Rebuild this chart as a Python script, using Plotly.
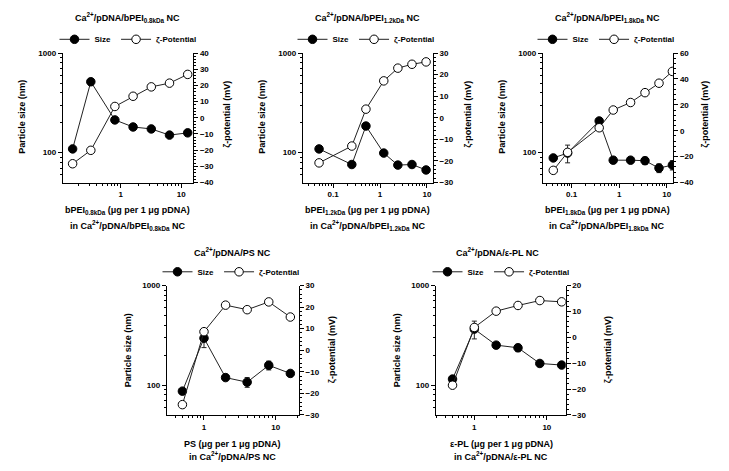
import plotly.graph_objects as go

W, H = 729, 471

# ---------------- data ----------------
p1_x = [0.16, 0.32, 0.8, 1.6, 3.2, 6.4, 12.8]
p1_size = [109, 515, 213, 181, 173, 150, 158]
p1_size_err = [6, 40, 8, 6, 5, 6, 6]
p1_zeta = [-28.4, -20.1, 7.0, 13.3, 19.1, 21.4, 26.8]

p2_x = [0.05, 0.25, 0.5, 1.2, 2.4, 4.8, 9.6]
p2_size = [109, 76, 185, 99, 75, 76, 67]
p2_size_err = [3, 3, 8, 4, 3, 3, 4]
p2_zeta = [-20.9, -13.1, 4.0, 17.1, 23.0, 24.8, 25.9]

p3_x = [0.041, 0.082, 0.38, 0.75, 1.74, 3.5, 6.9, 13.2]
p3_size = [88.5, 99, 208, 84, 84, 83, 70, 75]
p3_size_err = [3, 20, 8, 6, 4, 7, 7, 8]
p3_zeta = [-30.6, -16.7, 2.3, 16.0, 21.8, 29.4, 36.7, 45.8]

p4_x = [0.5, 1, 2, 4, 8, 16]
p4_size = [87, 296, 119, 107, 158, 131]
p4_size_err = [5, 58, 6, 12, 16, 5]
p4_zeta = [-25.2, 8.6, 20.9, 18.8, 22.4, 15.4]

p5_x = [0.5, 1, 2, 4, 8, 16]
p5_size = [115, 365, 252, 237, 165, 159]
p5_size_err = [5, 74, 15, 20, 6, 6]
p5_zeta = [-18.5, 3.8, 10.1, 12.3, 14.2, 13.7]

titles = [
    "Ca<sup>2+</sup>/pDNA/bPEI<sub>0.8kDa</sub> NC",
    "Ca<sup>2+</sup>/pDNA/bPEI<sub>1.2kDa</sub> NC",
    "Ca<sup>2+</sup>/pDNA/bPEI<sub>1.8kDa</sub> NC",
    "Ca<sup>2+</sup>/pDNA/PS NC",
    "Ca<sup>2+</sup>/pDNA/ε-PL NC",
]
xtitle1 = [
    "bPEI<sub>0.8kDa</sub> (μg per 1 μg pDNA)",
    "bPEI<sub>1.2kDa</sub> (μg per 1 μg pDNA)",
    "bPEI<sub>1.8kDa</sub> (μg per 1 μg pDNA)",
    "PS (μg per 1 μg pDNA)",
    "ε-PL (μg per 1 μg pDNA)",
]
xtitle2 = [
    "in Ca<sup>2+</sup>/pDNA/bPEI<sub>0.8kDa</sub> NC",
    "in Ca<sup>2+</sup>/pDNA/bPEI<sub>1.2kDa</sub> NC",
    "in Ca<sup>2+</sup>/pDNA/bPEI<sub>1.8kDa</sub> NC",
    "in Ca<sup>2+</sup>/pDNA/PS NC",
    "in Ca<sup>2+</sup>/pDNA/ε-PL NC",
]
x_ticks = [[0.1, 1, 10], [0.1, 1, 10], [0.1, 1, 10], [1, 10], [1, 10]]
x_ticktext = [["0.1", "1", "10"], ["0.1", "1", "10"], ["0.1", "1", "10"], ["1", "10"], ["1", "10"]]
size_ticks = [100, 1000]
size_ticktext = ["100", "1000"]
legend_names = ["Size", "ζ-Potential"]
ytitle_left = "Particle size (nm)"
ytitle_right = "ζ-potential (mV)"

xs = [p1_x, p2_x, p3_x, p4_x, p5_x]
sizes = [p1_size, p2_size, p3_size, p4_size, p5_size]
size_errs = [p1_size_err, p2_size_err, p3_size_err, p4_size_err, p5_size_err]
zetas = [p1_zeta, p2_zeta, p3_zeta, p4_zeta, p5_zeta]

# ---------------- layout geometry (px) ----------------
boxes = [  # left, right, top, bottom
    (62.7, 193.3, 50, 182),
    (302.7, 433, 50, 182),
    (542.7, 673.3, 50, 182),
    (166.7, 299, 287, 419),
    (435.7, 565.7, 287, 419),
]
xranges = [[-0.96, 1.2], [-1.65, 1.13], [-1.61, 1.14], [-0.52, 1.325], [-0.533, 1.26]]
zranges = [[-40, 40], [-30, 30], [-40, 60], [-30, 30], [-30, 20]]
zdticks = [10, 10, 20, 10, 10]
title_pos = [(127.5, 14), (367.5, 14), (607, 14), (232, 253), (497, 253)]
legend_pos = [(128, 36), (366, 36), (606, 36), (231, 273), (501, 273)]
xt_pos = [(127.5, 211, 226), (367.5, 211, 226), (607, 211, 226), (232, 449, 461), (501, 449, 461)]
yl_pos = [(22, 115), (262, 115), (502, 115), (128, 353), (397, 353)]
yr_pos = [(227, 113), (468, 113), (705, 113), (332, 353), (608, 353)]

FONT = "Arial, Liberation Sans, sans-serif"

def px(x):
    return x / W

def py(y):
    return 1 - y / H

fig = go.Figure()
layout = dict(
    width=W, height=H, margin=dict(l=0, r=0, t=0, b=0),
    paper_bgcolor="white", plot_bgcolor="white",
    font=dict(family=FONT, size=8, color="black"),
    annotations=[],
)

minor_log = [50, 60, 70, 80, 90, 200, 300, 400, 500, 600, 700, 800, 900]
minor_x = [m * d for d in [0.01, 0.1, 1, 10] for m in range(2, 10)]
TICKFONT = dict(size=8, family=FONT, color="black", weight="bold")

for i in range(5):
    n = i + 1
    xa = "x" if n == 1 else f"x{n}"
    ya = "y" if n == 1 else f"y{n}"
    za = f"y{n+5}"
    lg = "legend" if n == 1 else f"legend{n}"
    l, r, t, b = boxes[i]
    fig.add_trace(go.Scatter(
        x=xs[i], y=sizes[i], xaxis=xa, yaxis=ya, name=legend_names[0],
        mode="lines+markers", legend=lg,
        line=dict(color="#222", width=1),
        marker=dict(symbol="circle", size=8.5, color="black", line=dict(color="black", width=1)),
        error_y=dict(type="data", array=size_errs[i], color="#222", thickness=1, width=2.5),
    ))
    fig.add_trace(go.Scatter(
        x=xs[i], y=zetas[i], xaxis=xa, yaxis=za, name=legend_names[1],
        mode="lines+markers", legend=lg,
        line=dict(color="#222", width=1),
        marker=dict(symbol="circle", size=8.5, color="white", line=dict(color="black", width=1)),
    ))
    axkey = "xaxis" if n == 1 else f"xaxis{n}"
    aykey = "yaxis" if n == 1 else f"yaxis{n}"
    azkey = f"yaxis{n+5}"
    layout[axkey] = dict(
        type="log", range=xranges[i], domain=[px(l), px(r)], anchor=ya,
        showline=True, linecolor="black", linewidth=1, showgrid=False, zeroline=False,
        ticks="outside", ticklen=4, tickwidth=1, tickcolor="black",
        tickvals=x_ticks[i], ticktext=x_ticktext[i],
        tickfont=TICKFONT,
        minor=dict(tickvals=minor_x, ticks="outside", ticklen=2, tickwidth=1, tickcolor="black", showgrid=False),
    )
    layout[aykey] = dict(
        type="log", range=[1.7, 3], domain=[py(b), py(t)], anchor=xa, side="left",
        showline=True, linecolor="black", linewidth=1, showgrid=False, zeroline=False,
        ticks="outside", ticklen=4, tickwidth=1, tickcolor="black",
        tickvals=size_ticks, ticktext=size_ticktext,
        tickfont=TICKFONT,
        minor=dict(tickvals=minor_log, ticks="outside", ticklen=2, tickwidth=1, tickcolor="black", showgrid=False),
    )
    layout[azkey] = dict(
        range=zranges[i], overlaying=ya, anchor=xa, side="right",
        showline=True, linecolor="black", linewidth=1, showgrid=False, zeroline=False,
        ticks="outside", ticklen=4, tickwidth=1, tickcolor="black",
        dtick=zdticks[i], tick0=0,
        tickfont=TICKFONT,
        minor=dict(dtick=zdticks[i] / 5, ticks="outside", ticklen=2, tickwidth=1, tickcolor="black", showgrid=False),
    )
    layout[lg] = dict(
        orientation="h", x=px(legend_pos[i][0]), y=py(legend_pos[i][1]),
        xanchor="center", yanchor="middle", bgcolor="rgba(0,0,0,0)",
        font=dict(size=8, family=FONT, color="black", weight="bold"), itemwidth=30, tracegroupgap=0,
    )
    anns = layout["annotations"]
    anns.append(dict(text="<b>" + titles[i] + "</b>", x=px(title_pos[i][0]), y=py(title_pos[i][1]),
                     xref="paper", yref="paper", showarrow=False, xanchor="center", yanchor="middle",
                     font=dict(size=9, family=FONT)))
    anns.append(dict(text="<b>" + xtitle1[i] + "</b>", x=px(xt_pos[i][0]), y=py(xt_pos[i][1]),
                     xref="paper", yref="paper", showarrow=False, xanchor="center", yanchor="middle",
                     font=dict(size=9, family=FONT)))
    anns.append(dict(text="<b>" + xtitle2[i] + "</b>", x=px(xt_pos[i][0]), y=py(xt_pos[i][2]),
                     xref="paper", yref="paper", showarrow=False, xanchor="center", yanchor="middle",
                     font=dict(size=9, family=FONT)))
    anns.append(dict(text="<b>" + ytitle_left + "</b>", x=px(yl_pos[i][0]), y=py(yl_pos[i][1]),
                     xref="paper", yref="paper", showarrow=False, xanchor="center", yanchor="middle",
                     textangle=-90, font=dict(size=9, family=FONT)))
    anns.append(dict(text="<b>" + ytitle_right + "</b>", x=px(yr_pos[i][0]), y=py(yr_pos[i][1]),
                     xref="paper", yref="paper", showarrow=False, xanchor="center", yanchor="middle",
                     textangle=-90, font=dict(size=9, family=FONT)))

fig.update_layout(**layout)
fig.write_html(
    "out.html",
    config={"displayModeBar": False},
    post_script="document.body.style.margin='0px';document.body.style.overflow='hidden';",
)
